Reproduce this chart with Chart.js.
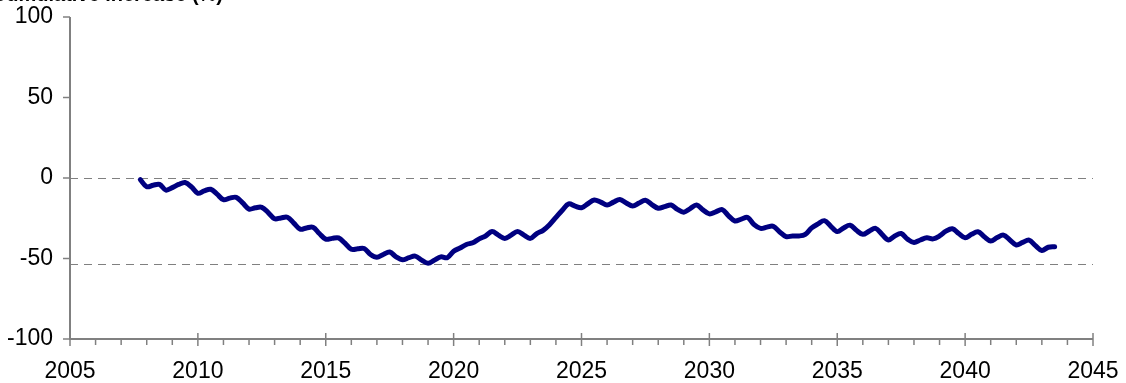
<!DOCTYPE html>
<html>
<head>
<meta charset="utf-8">
<script src="https://cdn.jsdelivr.net/npm/chart.js@4.4.0/dist/chart.umd.min.js"></script>
<style>
  html, body { margin: 0; padding: 0; background: #fff; }
  canvas { display: block; }
</style>
</head>
<body>
<canvas id="chart" width="1126" height="383"></canvas>
<script>
// ─── DATA ───
const titleText = 'Cumulative increase (%)';

// quarter points, decimal years
const time = [
  2007.75,
  2008, 2008.25, 2008.5, 2008.75,
  2009, 2009.25, 2009.5, 2009.75,
  2010, 2010.25, 2010.5, 2010.75,
  2011, 2011.25, 2011.5, 2011.75,
  2012, 2012.25, 2012.5, 2012.75,
  2013, 2013.25, 2013.5, 2013.75,
  2014, 2014.25, 2014.5, 2014.75,
  2015, 2015.25, 2015.5, 2015.75,
  2016, 2016.25, 2016.5, 2016.75,
  2017, 2017.25, 2017.5, 2017.75,
  2018, 2018.25, 2018.5, 2018.75,
  2019, 2019.25, 2019.5, 2019.75,
  2020, 2020.25, 2020.5, 2020.75,
  2021, 2021.25, 2021.5, 2021.75,
  2022, 2022.25, 2022.5, 2022.75,
  2023, 2023.25, 2023.5, 2023.75,
  2024, 2024.25, 2024.5, 2024.75,
  2025, 2025.25, 2025.5, 2025.75,
  2026, 2026.25, 2026.5, 2026.75,
  2027, 2027.25, 2027.5, 2027.75,
  2028, 2028.25, 2028.5, 2028.75,
  2029, 2029.25, 2029.5, 2029.75,
  2030, 2030.25, 2030.5, 2030.75,
  2031, 2031.25, 2031.5, 2031.75,
  2032, 2032.25, 2032.5, 2032.75,
  2033, 2033.25, 2033.5, 2033.75,
  2034, 2034.25, 2034.5, 2034.75,
  2035, 2035.25, 2035.5, 2035.75,
  2036, 2036.25, 2036.5, 2036.75,
  2037, 2037.25, 2037.5, 2037.75,
  2038, 2038.25, 2038.5, 2038.75,
  2039, 2039.25, 2039.5, 2039.75,
  2040, 2040.25, 2040.5, 2040.75,
  2041, 2041.25, 2041.5, 2041.75,
  2042, 2042.25, 2042.5, 2042.75,
  2043, 2043.25, 2043.5
];

const change = [
  -1,
  -5.4, -4.5, -4.0, -7.5,
  -6, -4, -2.8, -5.5,
  -9.5, -8, -7, -10,
  -13.5, -12.5, -12, -15.5,
  -19.3, -18.5, -18.2, -21.5,
  -25.3, -24.8, -24.4, -28,
  -31.8, -31, -30.6, -34.5,
  -38, -37.5, -37.2, -40.5,
  -44.3, -44, -43.8, -47.5,
  -49.2, -47.5, -46, -49,
  -50.8, -49.5, -48.5, -51,
  -53, -51, -49, -49.5,
  -45.5, -43.5, -41.3, -40.2,
  -37.8, -36, -33.3, -35.5,
  -37.5, -35.5, -33.3, -35.5,
  -37.5, -34.5, -32.5, -29,
  -24.5, -20, -16.1, -17.5,
  -18.5, -16, -13.7, -15,
  -16.8, -15, -13.3, -15.5,
  -17.4, -15.5, -13.8, -16.5,
  -18.8, -17.8, -16.8, -19.5,
  -21.2, -19, -16.8, -19.8,
  -22.3, -21, -19.6, -23.5,
  -26.7, -25.5, -24.5, -29,
  -31.3, -30.5, -30, -33.5,
  -36.4, -36, -36, -35,
  -31, -28.5, -26.5, -30,
  -33.3, -31, -29.3, -32.5,
  -35, -33, -31.3, -35,
  -38.5, -36, -34.5, -38,
  -40, -38.5, -37.1, -37.8,
  -36, -33, -31.5, -34.5,
  -37.1, -35, -33.4, -36.5,
  -39.1, -37, -35.5, -38.5,
  -41.6, -40, -38.6, -42,
  -45, -43, -42.7
];

const xTicks = [2005, 2010, 2015, 2020, 2025, 2030, 2035, 2040, 2045];
const yTicks = [-100, -50, 0, 50, 100];
const refLines = [0, -53.5];

// ─── PLUGIN: axes, ticks, dashed reference lines, title ───
const axisColor = '#808080';

const excelAxes = {
    id: 'excelAxes',
    beforeDatasetsDraw(chart) {
        const { ctx, chartArea: a, scales: { y } } = chart;
        ctx.save();
        ctx.strokeStyle = axisColor;
        ctx.lineWidth = 1;
        ctx.setLineDash([8, 6]);
        refLines.forEach(v => {
            const py = Math.round(y.getPixelForValue(v)) + 0.5;
            ctx.beginPath();
            ctx.moveTo(a.left, py);
            ctx.lineTo(a.right, py);
            ctx.stroke();
        });
        ctx.restore();
    },
    afterDraw(chart) {
        const { ctx, chartArea: a, scales: { x, y } } = chart;
        ctx.save();
        ctx.strokeStyle = axisColor;
        ctx.lineWidth = 2;
        ctx.beginPath();
        ctx.moveTo(a.left, a.top);
        ctx.lineTo(a.left, a.bottom);
        ctx.lineTo(a.right, a.bottom);
        ctx.stroke();

        ctx.lineWidth = 1.5;
        yTicks.forEach(v => {
            const py = y.getPixelForValue(v);
            ctx.beginPath();
            ctx.moveTo(a.left - 7, py);
            ctx.lineTo(a.left, py);
            ctx.stroke();
        });
        for (let yr = x.min; yr <= x.max; yr++) {
            const px = x.getPixelForValue(yr);
            ctx.beginPath();
            if (xTicks.includes(yr)) {
                ctx.moveTo(px, a.bottom - 6);
                ctx.lineTo(px, a.bottom + 7);
            } else {
                ctx.moveTo(px, a.bottom);
                ctx.lineTo(px, a.bottom + 6);
            }
            ctx.stroke();
        }

        ctx.fillStyle = '#000';
        ctx.font = 'bold 20px "Liberation Sans", Arial, sans-serif';
        ctx.textAlign = 'right';
        ctx.textBaseline = 'alphabetic';
        ctx.fillText(titleText, 223, 1);
        ctx.restore();
    }
};

// ─── CHART ───
const tickFont = { family: '"Liberation Sans", Arial, sans-serif', size: 23 };

new Chart(document.getElementById('chart').getContext('2d'), {
    type: 'line',
    data: {
        datasets: [{
            data: time.map((t, i) => ({ x: t, y: change[i] })),
            borderColor: '#000080',
            borderWidth: 5,
            pointRadius: 0,
            tension: 0.35,
            borderJoinStyle: 'round',
            borderCapStyle: 'round',
            fill: false
        }]
    },
    options: {
        responsive: false,
        animation: false,
        layout: { padding: { top: 17, right: 33, left: 0, bottom: 0 } },
        plugins: { legend: { display: false }, tooltip: { enabled: false } },
        scales: {
            x: {
                type: 'linear',
                min: 2005,
                max: 2045,
                afterBuildTicks: s => { s.ticks = xTicks.map(v => ({ value: v })); },
                ticks: { font: tickFont, color: '#000', padding: 11, maxRotation: 0, callback: v => String(v) },
                grid: { display: false },
                border: { display: false },
                afterFit: s => { s.height = 44; s.paddingLeft = 0; s.paddingRight = 0; }
            },
            y: {
                min: -100,
                max: 100,
                afterBuildTicks: s => { s.ticks = yTicks.map(v => ({ value: v })); },
                ticks: { font: tickFont, color: '#000', padding: 9, callback: v => String(v) },
                grid: { display: false },
                border: { display: false },
                afterFit: s => { s.width = 70; s.paddingTop = 0; s.paddingBottom = 0; }
            }
        }
    },
    plugins: [excelAxes]
});
</script>
</body>
</html>
